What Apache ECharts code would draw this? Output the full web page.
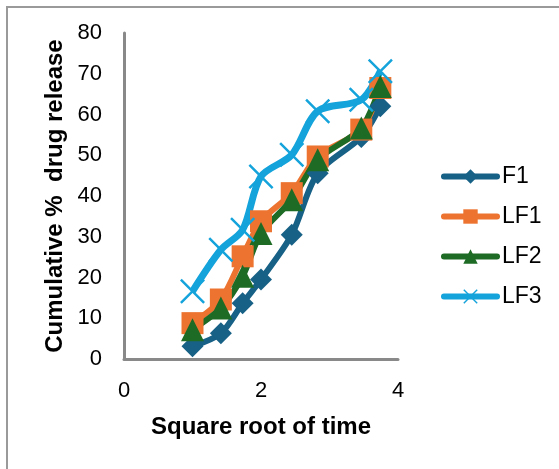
<!DOCTYPE html>
<html>
<head>
<meta charset="utf-8">
<script src="https://cdn.jsdelivr.net/npm/echarts@6/dist/echarts.min.js"></script>
<style>html,body{margin:0;padding:0;background:#fff;}#c{width:559px;height:469px;}</style>
</head>
<body>
<div id="c"></div>
<script>
var xValues = [1, 1.414, 1.732, 2, 2.449, 2.828, 3.464, 3.742];
var seriesNames = ['F1', 'LF1', 'LF2', 'LF3'];
var F1 = [3.1, 6.3, 13.7, 19.5, 30.5, 45.6, 54.5, 62];
var LF1 = [8.8, 14.6, 25.2, 33.8, 40.7, 49.7, 56.3, 66.5];
var LF2 = [7.2, 12.5, 20.3, 30.8, 39.1, 48.9, 56.7, 66.9];
var LF3 = [16.6, 26.8, 31.7, 44.8, 50.1, 60.8, 63.6, 70.6];
var xTitle = 'Square root of time';
var yTitle = 'Cumulative %  drug release';

var colors = ['#176086', '#EC7430', '#1E6B25', '#14A3DB'];
var symbols = ['diamond', 'rect', 'triangle',
  'path://M0,1.4L1.4,0L10,8.6L18.6,0L20,1.4L11.4,10L20,18.6L18.6,20L10,11.4L1.4,20L0,18.6L8.6,10Z'];
var sizes = [22, 22, 23, 25];
var widths = [6, 6, 6, 7];
var allData = [F1, LF1, LF2, LF3];

function pairs(ys) { return xValues.map(function (x, i) { return [x, ys[i]]; }); }

var series = seriesNames.map(function (n, i) {
  return {
    name: n, type: 'line', data: pairs(allData[i]), smooth: 0.3,
    symbol: symbols[i], symbolSize: sizes[i],
    lineStyle: { color: colors[i], width: widths[i] },
    itemStyle: { color: colors[i] },
    emphasis: { disabled: true }, animation: false
  };
});

var chart = echarts.init(document.getElementById('c'));
chart.setOption({
  animation: false,
  graphic: [{ type: 'rect', shape: { x: 7, y: 7, width: 600, height: 500 }, style: { fill: 'none', stroke: '#9a9a9a', lineWidth: 2 } }],
  grid: { left: 124, right: 161, top: 33, bottom: 110, containLabel: false },
  legend: {
    orient: 'vertical', left: 436, top: 160, itemWidth: 53, itemHeight: 18, itemGap: 17,
    lineStyle: { width: 6, cap: 'round' },
    textStyle: { fontFamily: 'Liberation Sans, Arial', fontSize: 23, color: '#000' },
    data: seriesNames
  },
  xAxis: {
    type: 'value', min: 0, max: 4, interval: 2,
    name: xTitle, nameLocation: 'middle', nameGap: 56,
    nameTextStyle: { fontFamily: 'Liberation Sans, Arial', fontSize: 24, fontWeight: 'bold', color: '#000' },
    axisLine: { show: true, lineStyle: { color: '#898989', width: 3 } },
    axisTick: { show: false }, splitLine: { show: false },
    axisLabel: { fontFamily: 'Liberation Sans, Arial', fontSize: 22, color: '#000', margin: 21 }
  },
  yAxis: {
    type: 'value', min: 0, max: 80, interval: 10,
    name: yTitle, nameLocation: 'middle', nameGap: 57,
    nameTextStyle: { fontFamily: 'Liberation Sans, Arial', fontSize: 24, fontWeight: 'bold', color: '#000' },
    axisLine: { show: true, lineStyle: { color: '#898989', width: 3 } },
    axisTick: { show: false }, splitLine: { show: false },
    axisLabel: { fontFamily: 'Liberation Sans, Arial', fontSize: 22, color: '#000', margin: 22 }
  },
  series: series
});
</script>
</body>
</html>
